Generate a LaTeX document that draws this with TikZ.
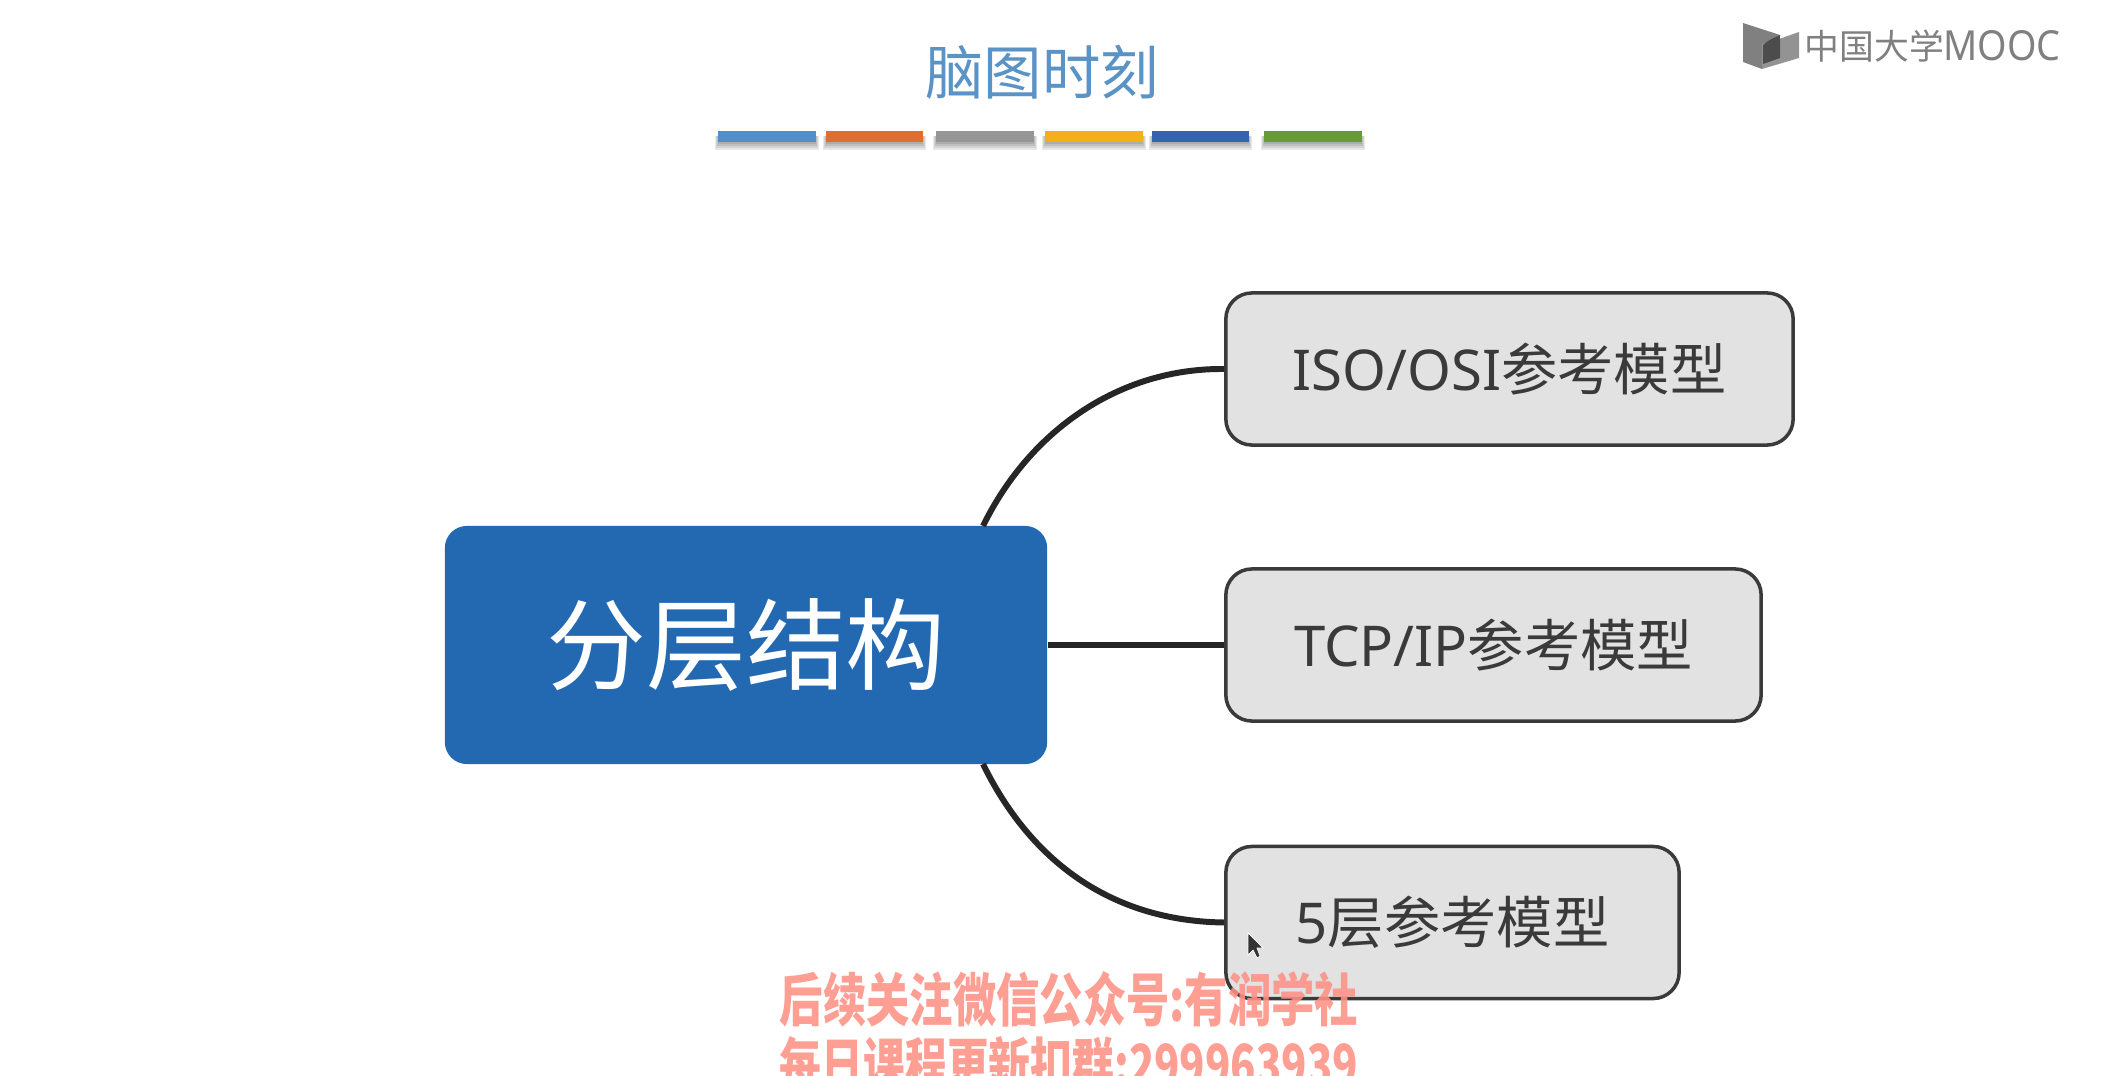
\documentclass[tikz,border=0pt]{standalone}
\usepackage{graphicx}
\usepackage{fontspec}
\setmainfont{Noto Sans CJK SC}
\newfontfamily\latinlabel{Noto Sans}
\definecolor{boxgray}{HTML}{E2E2E2}
\definecolor{boxline}{HTML}{3A3A3A}
\definecolor{mainblue}{HTML}{2369B1}
\definecolor{titleblue}{HTML}{5A93C6}
\definecolor{salmon}{HTML}{FF9185}
\definecolor{logogray}{HTML}{808080}
\tikzset{
 leafbox/.style={draw=boxline,line width=1pt,fill=boxgray,rounded corners=0.26cm,inner sep=0pt,minimum height=1.52cm,text=boxline,font=\fontsize{16pt}{18pt}\selectfont},
 mainbox/.style={fill=mainblue,rounded corners=0.22cm,inner sep=0pt,minimum width=6.02cm,minimum height=2.38cm,text=white,font=\fontsize{28.4pt}{32pt}\selectfont},
 link/.style={draw=black!85,line width=1.7pt},
 barshadow/.style={fill=black,opacity=0.09},
 watermark/.style={text=salmon,text opacity=0.88,inner sep=0pt,font=\fontsize{12.5pt}{15pt}\selectfont\bfseries,anchor=base},
}
\begin{document}
\begin{tikzpicture}[x=0.01cm,y=-0.01cm]
\useasboundingbox (0,0) rectangle (2102,1076);
\clip (0,0) rectangle (2102,1076);
\fill[white] (0,0) rectangle (2102,1076);
% title
\node[text=titleblue,font=\fontsize{16.6pt}{20pt}\selectfont,inner sep=0pt] (title) at (1042,72) {脑图时刻};
% colour bars
\foreach \xa/\xb/\c in {718/816/4F8FCB,826/923/DD6F31,936/1034/969696,1045/1143/F7AE1B,1152/1249/3464B0,1264/1362/689B34}{
  \fill[barshadow] (\xa-3,136) rectangle (\xb+3,150);
  \fill[barshadow] (\xa-2,136) rectangle (\xb+2,148);
  \fill[barshadow] (\xa-1,136) rectangle (\xb+1,146);
  \fill[barshadow] (\xa,136) rectangle (\xb,144);
  \definecolor{barc}{HTML}{\c}
  \fill[barc] (\xa,131) rectangle (\xb,142);
}
% logo
\fill[logogray] (1743,23) -- (1780,35) -- (1762,45) -- (1762,69) -- (1743,62) -- cycle;
\fill[logogray!85] (1762,45) -- (1799,32) -- (1799,58) -- (1762,69) -- cycle;
\fill[black!70] (1763,45) .. controls (1768,40) and (1774,38) .. (1780,35) -- (1780,58) -- (1763,64) -- cycle;
\node[text=logogray,inner sep=0pt,anchor=west,font=\fontsize{9.9pt}{12pt}\selectfont] (logotext) at (1804,46) {中国大学};
\node[text=logogray,inner sep=0pt,anchor=west,font=\fontsize{12pt}{14pt}\selectfont] (logomooc) at (1943,46) {\resizebox{1.17cm}{0.30cm}{\latinlabel MOOC}};
% nodes
\node[mainbox] (main) at (746,645) {分层结构};
\node[leafbox,minimum width=5.67cm] (iso) at (1509.5,369) {{\latinlabel ISO/OSI}参考模型};
\node[leafbox,minimum width=5.35cm] (tcp) at (1493.5,645) {{\latinlabel TCP/IP}参考模型};
\node[leafbox,minimum width=4.53cm] (five) at (1452.5,922.5) {{\latinlabel 5}层参考模型};
% connectors
\coordinate (topstart) at (983,526);
\coordinate (botstart) at (983,764);
\draw[link] (topstart) .. controls (1030,430) and (1120,368) .. (iso.west);
\draw[link] (main.east) -- (tcp.west);
\draw[link] (botstart) .. controls (1030,860) and (1110,921) .. (five.west);
% cursor
\fill[black!80,draw=white,line width=0.2pt] (1248,933) -- (1248,955) -- (1253,950) -- (1257,958) -- (1260,956) -- (1257,948) -- (1263,948) -- cycle;
% watermark
\node[watermark] (wm1) at (1069,1021) {\resizebox{5.78cm}{0.50cm}{后续关注微信公众号:有润学社}};
\node[watermark] (wm2) at (1069,1086) {\resizebox{5.78cm}{0.50cm}{每日课程更新扣群:299963939}};
\end{tikzpicture}
\end{document}
